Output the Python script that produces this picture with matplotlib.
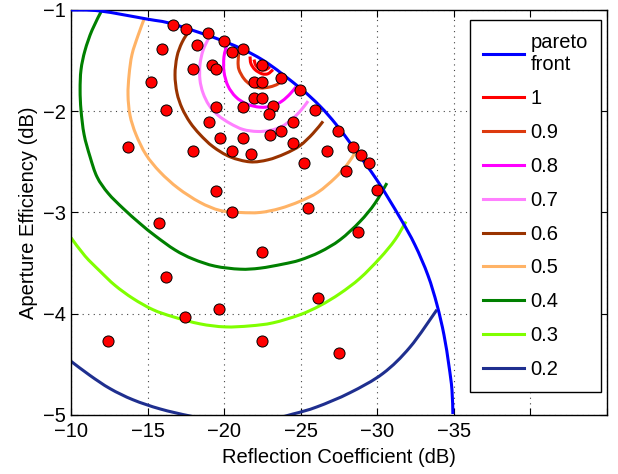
import numpy as np
from matplotlib import pyplot as plt
from matplotlib.path import Path
from matplotlib.patches import PathPatch
from matplotlib.lines import Line2D

plt.rcParams['font.family'] = ['Liberation Sans', 'DejaVu Sans']

# pareto front (dB)
pareto_x = [-10.00, -11.89, -14.96, -16.66, -19.99, -22.47, -24.95, -26.26, -27.31, -28.41,
            -29.98, -31.48, -32.46, -33.31, -33.90, -34.36, -34.68, -34.88, -34.94]
pareto_y = [-1.00, -1.01, -1.09, -1.14, -1.31, -1.49, -1.77, -1.95, -2.13, -2.35,
            -2.68, -3.05, -3.32, -3.62, -3.91, -4.21, -4.51, -4.75, -4.99]

# sampled designs
sample_x = [-16.66, -17.51, -18.95, -19.99, -21.23, -20.52, -18.23, -15.94, -22.48, -19.21,
            -19.47, -17.97, -15.23, -23.72, -21.95, -22.48, -24.96, -21.95, -22.48, -16.21,
            -19.47, -21.23, -23.19, -25.94, -22.93, -19.01, -24.50, -23.72, -23.00, -19.73,
            -21.23, -24.50, -13.72, -17.97, -20.52, -21.76, -25.22, -19.47, -25.48, -20.52,
            -15.75, -27.44, -28.42, -28.94, -29.46, -26.72, -27.96, -29.99, -28.75, -22.48,
            -16.21, -17.45, -19.67, -12.42, -22.48, -26.13, -27.50]
sample_y = [-1.15, -1.19, -1.23, -1.31, -1.39, -1.42, -1.35, -1.39, -1.54, -1.54,
            -1.58, -1.58, -1.71, -1.67, -1.71, -1.71, -1.79, -1.87, -1.87, -1.99,
            -1.96, -1.96, -1.95, -1.99, -2.03, -2.11, -2.11, -2.20, -2.23, -2.26,
            -2.26, -2.31, -2.35, -2.39, -2.39, -2.42, -2.51, -2.79, -2.96, -3.00,
            -3.10, -2.20, -2.35, -2.43, -2.51, -2.39, -2.59, -2.78, -3.19, -3.39,
            -3.64, -4.03, -3.95, -4.27, -4.27, -3.84, -4.39]

# contour levels
c10_x = [-21.69, -21.75, -22.02, -22.47, -22.86, -23.19]
c10_y = [-1.46, -1.53, -1.59, -1.63, -1.63, -1.59]
c10b_x = [-21.95, -22.08, -22.41, -22.73, -22.99]
c10b_y = [-1.49, -1.55, -1.59, -1.59, -1.56]
c09_x = [-20.97, -20.91, -20.97, -21.30, -21.75, -22.34, -22.99, -23.52, -23.84]
c09_y = [-1.41, -1.51, -1.59, -1.68, -1.74, -1.77, -1.76, -1.73, -1.68]
c08_x = [-20.19, -19.99, -19.99, -20.25, -20.77, -21.49, -22.34, -23.13, -23.78, -24.30, -24.69]
c08_y = [-1.34, -1.46, -1.61, -1.75, -1.86, -1.93, -1.96, -1.95, -1.90, -1.83, -1.76]
c07_x = [-19.01, -18.62, -18.42, -18.42, -18.62, -19.01, -19.60, -20.38, -21.23, -22.15,
         -22.99, -23.78, -24.50, -25.02, -25.48]
c07_y = [-1.27, -1.40, -1.54, -1.69, -1.82, -1.94, -2.04, -2.12, -2.18, -2.20,
         -2.19, -2.15, -2.07, -1.99, -1.90]
c06_x = [-17.77, -17.25, -16.92, -16.79, -16.92, -17.25, -17.77, -18.42, -19.27, -20.38,
         -21.69, -22.86, -23.97, -24.95, -25.80, -26.46]
c06_y = [-1.19, -1.32, -1.46, -1.64, -1.82, -1.97, -2.11, -2.23, -2.35, -2.45,
         -2.50, -2.48, -2.42, -2.34, -2.22, -2.10]
c05_x = [-14.77, -14.38, -13.98, -13.79, -13.72, -13.85, -14.24, -14.90, -15.81, -16.99,
         -18.42, -19.73, -21.04, -22.34, -23.65, -24.95, -26.13, -27.24, -28.02, -28.55]
c05_y = [-1.09, -1.25, -1.44, -1.64, -1.84, -2.04, -2.23, -2.43, -2.60, -2.76,
         -2.90, -2.98, -3.00, -3.00, -2.96, -2.89, -2.80, -2.66, -2.53, -2.41]
c04_x = [-12.02, -11.37, -10.91, -10.65, -10.59, -10.65, -10.85, -11.24, -11.70, -12.42,
         -13.40, -14.51, -15.49, -16.79, -17.97, -19.40, -21.04, -22.34, -23.84, -24.95,
         -26.26, -27.57, -28.87, -29.85, -30.63]
c04_y = [-1.00, -1.20, -1.40, -1.59, -1.79, -1.99, -2.23, -2.45, -2.65, -2.81,
         -2.96, -3.11, -3.23, -3.37, -3.46, -3.53, -3.56, -3.55, -3.51, -3.47,
         -3.39, -3.27, -3.09, -2.91, -2.71]
c03_x = [-10.00, -10.91, -11.89, -12.87, -14.05, -15.35, -16.66, -18.42, -20.06, -21.69,
         -23.19, -24.95, -26.26, -27.57, -28.87, -30.18, -31.16, -31.88]
c03_y = [-3.25, -3.43, -3.58, -3.72, -3.85, -3.96, -4.03, -4.10, -4.13, -4.12,
         -4.09, -4.01, -3.92, -3.80, -3.65, -3.45, -3.27, -3.09]
c02_x = [-10.00, -11.24, -12.55, -14.05, -15.81, -17.77, -19.40, -22.67, -24.50, -26.06,
         -28.22, -30.37, -32.14, -33.90]
c02_y = [-4.47, -4.61, -4.74, -4.85, -4.94, -5.01, -5.05, -5.05, -4.99, -4.92,
         -4.78, -4.59, -4.33, -3.96]


def smooth_line(ax, xs, ys, color, lw=2.2, z=2):
    # draw a smooth curve through the read points (bezier segments)
    p = np.column_stack([xs, ys])
    verts = [p[0]]
    codes = [Path.MOVETO]
    for i in range(len(p) - 1):
        p0 = p[i - 1] if i > 0 else p[i]
        p3 = p[i + 2] if i + 2 < len(p) else p[i + 1]
        verts += [p[i] + (p[i + 1] - p0) / 6, p[i + 1] - (p3 - p[i]) / 6, p[i + 1]]
        codes += [Path.CURVE4] * 3
    ax.add_patch(PathPatch(Path(verts, codes), fill=False, ec=color, lw=lw, zorder=z,
                           capstyle='butt', joinstyle='round'))
    return Line2D([], [], color=color, lw=lw)


fig = plt.figure(figsize=(6.18, 4.74), dpi=100)
ax = fig.add_axes([0.115, 0.1245, 0.867, 0.8545])

handles = []
labels = []
handles.append(smooth_line(ax, pareto_x, pareto_y, '#0000ff', z=3))
labels.append('pareto\nfront')
handles.append(smooth_line(ax, c10_x, c10_y, '#ff0000'))
smooth_line(ax, c10b_x, c10b_y, '#ff0000')
labels.append('1')
curves = [(c09_x, c09_y, '#dd3a0e', '0.9'),
          (c08_x, c08_y, '#ff00ff', '0.8'),
          (c07_x, c07_y, '#ff80ff', '0.7'),
          (c06_x, c06_y, '#993300', '0.6'),
          (c05_x, c05_y, '#ffb366', '0.5'),
          (c04_x, c04_y, '#008000', '0.4'),
          (c03_x, c03_y, '#80ff00', '0.3'),
          (c02_x, c02_y, '#1f2f8f', '0.2')]
for cx, cy, col, lab in curves:
    handles.append(smooth_line(ax, cx, cy, col))
    labels.append(lab)

ax.plot(sample_x, sample_y, 'o', color='#ff0000', mec='k', mew=0.7, ms=8, zorder=4)

ax.set_xlim(-10, -45)
ax.set_ylim(-5, -1)
xt = [-10, -15, -20, -25, -30, -35, -40, -45]
ax.set_xticks(xt)
ax.set_xticklabels(['\u221210', '\u221215', '\u221220', '\u221225', '\u221230', '\u221235', '', ''])
ax.set_yticks([-5, -4, -3, -2, -1])
ax.set_yticklabels(['\u22125', '\u22124', '\u22123', '\u22122', '\u22121'])
ax.tick_params(direction='in', top=True, right=True, length=5, labelsize=14.5, width=0.8)
ax.tick_params(axis='x', pad=5)
ax.grid(True, linestyle=(0, (1, 4)), color='#444444', lw=0.8)
for s in ax.spines.values():
    s.set_linewidth(1.0)

ax.set_xlabel('Reflection Coefficient (dB)', fontsize=14.5, labelpad=5)
ax.set_ylabel('Aperture Efficiency (dB)', fontsize=14.5, labelpad=4)

leg = ax.legend(handles, labels, loc='upper right', bbox_to_anchor=(0.9888, 0.9753),
                borderaxespad=0, fontsize=14.5, handlelength=2.05, labelspacing=0.74,
                fancybox=False, framealpha=1, edgecolor='k', borderpad=0.65,
                handletextpad=0.3)
leg.get_frame().set_linewidth(1.0)

fig.savefig('out.png', dpi=100)
